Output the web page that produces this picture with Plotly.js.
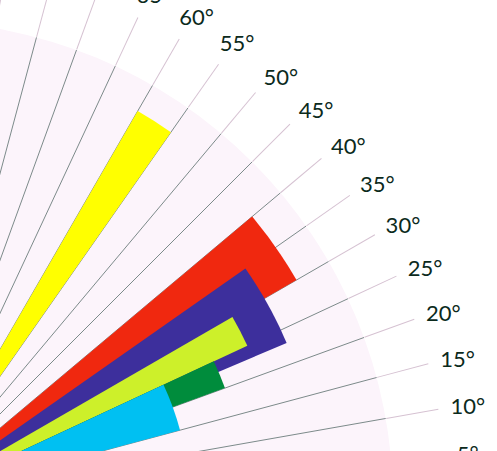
<!DOCTYPE html>
<html>
<head>
<meta charset="utf-8">
<script src="https://cdn.plot.ly/plotly-3.0.1.min.js"></script>
<style>
  html, body { margin: 0; padding: 0; width: 497px; height: 451px; overflow: hidden; background: #ffffff; }
  #chart { position: absolute; left: -188px; top: -129px; width: 731px; height: 731px; }
</style>
</head>
<body>
<div id="chart"></div>
<script>
// Bar data (angular centre in degrees, angular width in degrees, radial value)
const seriesNames = ["Red", "Indigo", "Lime", "Green", "Cyan", "Yellow"];
const thetaValues = [35, 29, 27.5, 22.5, 20, 57.5];
const widthValues = [10, 12, 5, 5, 10, 5];
const rValues = [12, 11, 10, 9, 7.5, 12.2];
const barColors = ["#f0280f", "#3d2f9c", "#cdf02a", "#008c3c", "#00c0f2", "#ffff00"];
const radialRange = [0, 13];

// angular tick labels
const tickAnglesLow = [0, 5, 10, 15, 20, 25, 30, 35, 40, 45, 50];
const tickAnglesHigh = [55, 60, 65, 70, 75, 80, 85];
const labelShiftHigh = 0.75; // small angular nudge for the upper labels

const traces = seriesNames.map((name, i) => ({
  type: "barpolar",
  subplot: "polar",
  name: name,
  r: [rValues[i]],
  theta: [thetaValues[i]],
  width: [widthValues[i]],
  marker: { color: barColors[i], line: { width: 0 } },
  opacity: 1,
  showlegend: false,
  hoverinfo: "skip"
}));

// empty traces on label-only polar subplots sharing the same centre
["polar2", "polar3"].forEach(sp => traces.push({
  type: "barpolar", subplot: sp, r: [], theta: [], showlegend: false, hoverinfo: "skip"
}));

const commonAngular = {
  direction: "counterclockwise",
  rotation: 0,
  showline: false
};

const labelFont = { family: "Lato, 'Open Sans', sans-serif", size: 22, color: "#0b2a1c" };

function labelPolar(vals, shift) {
  return {
    domain: { x: [0, 1], y: [0, 1] },
    sector: [0, 90],
    hole: 0,
    bgcolor: "rgba(0,0,0,0)",
    radialaxis: { visible: false, range: radialRange },
    angularaxis: Object.assign({}, commonAngular, {
      tickmode: "array",
      tickvals: vals.map(v => v + shift),
      ticktext: vals.map(v => v + "°"),
      ticks: "outside",
      ticklen: 61,
      tickwidth: 1,
      tickcolor: "rgba(0,0,0,0)",
      showgrid: false,
      showticklabels: true,
      tickfont: labelFont
    })
  };
}

const layout = {
  width: 731,
  height: 731,
  margin: { l: 100, r: 150, t: 150, b: 100, pad: 0 },
  paper_bgcolor: "#ffffff",
  showlegend: false,
  polar: {
    domain: { x: [0, 1], y: [0, 1] },
    sector: [0, 90],
    hole: 0,
    bgcolor: "#fcf4fb",
    barmode: "overlay",
    radialaxis: { visible: false, range: radialRange },
    angularaxis: Object.assign({}, commonAngular, {
      tickmode: "linear",
      tick0: 0,
      dtick: 5,
      ticks: "outside",
      ticklen: 53,
      tickwidth: 1,
      tickcolor: "#d6c2d2",
      showgrid: true,
      gridcolor: "#7c8a8a",
      gridwidth: 1,
      layer: "above traces",
      showticklabels: false
    })
  },
  polar2: labelPolar(tickAnglesLow, 0),
  polar3: labelPolar(tickAnglesHigh, labelShiftHigh)
};

Plotly.newPlot("chart", traces, layout, { displayModeBar: false, staticPlot: true });
</script>
</body>
</html>
